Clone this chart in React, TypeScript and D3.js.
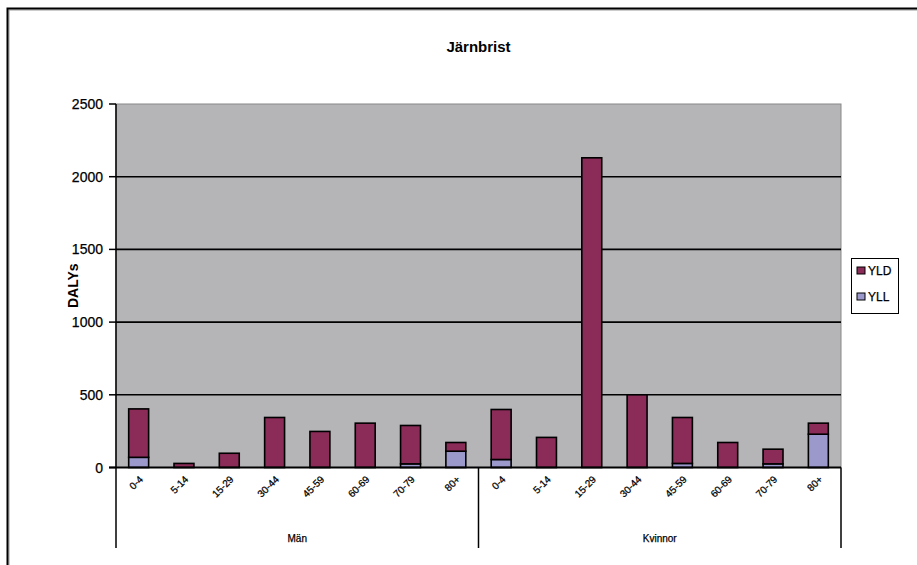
import React from "react";
import * as d3 from "d3";

// Age bands repeated for each sex group
const ageGroups = ["0-4", "5-14", "15-29", "30-44", "45-59", "60-69", "70-79", "80+"];
const sexGroups = ["Män", "Kvinnor"];

// DALY components per age band (Män then Kvinnor)
const yllMen = [70, 0, 0, 0, 0, 0, 25, 112];
const yldMen = [333, 28, 98, 344, 248, 305, 264, 60];
const yllWomen = [55, 0, 0, 0, 28, 0, 25, 229];
const yldWomen = [344, 207, 2130, 500, 316, 172, 101, 76];

const yTicks = [0, 500, 1000, 1500, 2000, 2500];
const seriesNames = ["YLD", "YLL"];
const seriesColors = { YLD: "#8a2b58", YLL: "#9b98cc" };

const W = 917;
const H = 565;
const plot = { left: 116, right: 841, top: 104, bottom: 467.5 };
const FONT = "'Liberation Sans', Arial, sans-serif";

type Row = { key: string; age: string; sex: string; yll: number; yld: number };

const rows: Row[] = [
  ...ageGroups.map((a, i) => ({ key: `M-${a}`, age: a, sex: sexGroups[0], yll: yllMen[i], yld: yldMen[i] })),
  ...ageGroups.map((a, i) => ({ key: `K-${a}`, age: a, sex: sexGroups[1], yll: yllWomen[i], yld: yldWomen[i] })),
];

export default function App() {
  const x = d3
    .scaleBand<string>()
    .domain(rows.map((r) => r.key))
    .range([plot.left, plot.right])
    .paddingInner(0.56)
    .paddingOuter(0.28);
  const y = d3.scaleLinear().domain([0, 2500]).range([plot.bottom, plot.top]);

  const stack = d3.stack<Row>().keys(["yll", "yld"]);
  const layers = stack(rows);

  const step = x.step();
  const groupEdges = [plot.left, plot.left + step * ageGroups.length, plot.right];
  const axisBottom = 548;
  const textInk = { fill: "#000", stroke: "#000", strokeWidth: 0.25 };

  return (
    <svg
      width={W}
      height={H}
      style={{ position: "absolute", left: 0, top: 0, background: "#fff" }}
      fontFamily={FONT}
    >
      {/* outer chart frame */}
      <rect x={9} y={10} width={W} height={H} fill="none" stroke="#999" strokeWidth={1} />
      <rect x={7.5} y={8.5} width={W + 10} height={H + 10} fill="none" stroke="#000" strokeWidth={2} />

      <text x={(plot.left + plot.right) / 2} y={52} textAnchor="middle" fontSize={15} fontWeight="bold">
        Järnbrist
      </text>

      {/* plot area */}
      <rect x={plot.left} y={plot.top} width={plot.right - plot.left} height={plot.bottom - plot.top} fill="#b5b5b8" stroke="#888" strokeWidth={1} />

      {yTicks.map((t) => (
        <g key={t}>
          {t > 0 && t < 2500 && (
            <line x1={plot.left} x2={plot.right} y1={y(t)} y2={y(t)} stroke="#000" strokeWidth={1.6} />
          )}
          <line x1={plot.left - 7} x2={plot.left} y1={y(t)} y2={y(t)} stroke="#000" strokeWidth={1.5} />
          <text x={103} y={y(t) + 5} textAnchor="end" fontSize={14} {...textInk}>
            {t}
          </text>
        </g>
      ))}

      {/* stacked bars */}
      {layers.map((layer) =>
        layer.map((d, i) => {
          const h = y(d[0]) - y(d[1]);
          if (h <= 0) return null;
          return (
            <rect
              key={`${layer.key}-${i}`}
              x={x(rows[i].key)}
              y={y(d[1])}
              width={x.bandwidth()}
              height={h}
              fill={layer.key === "yll" ? seriesColors.YLL : seriesColors.YLD}
              stroke="#000"
              strokeWidth={1.6}
            />
          );
        })
      )}

      {/* axes */}
      <line x1={plot.left} x2={plot.left} y1={plot.top} y2={axisBottom} stroke="#000" strokeWidth={1.5} />
      <line x1={plot.left - 7} x2={plot.right} y1={plot.bottom} y2={plot.bottom} stroke="#000" strokeWidth={1.8} />
      {groupEdges.slice(1).map((gx, i) => (
        <line key={i} x1={gx} x2={gx} y1={plot.bottom} y2={axisBottom} stroke="#000" strokeWidth={1.5} />
      ))}

      {rows.map((r) => {
        const cx = (x(r.key) as number) + x.bandwidth() / 2 + 5;
        const cy = 480;
        return (
          <text key={r.key} transform={`translate(${cx},${cy}) rotate(-45)`} textAnchor="end" fontSize={10} {...textInk}>
            {r.age}
          </text>
        );
      })}

      {sexGroups.map((s, i) => (
        <text key={s} x={(groupEdges[i] + groupEdges[i + 1]) / 2} y={542} textAnchor="middle" fontSize={10} {...textInk}>
          {s}
        </text>
      ))}

      <text transform={`translate(78,${(plot.top + plot.bottom) / 2}) rotate(-90)`} textAnchor="middle" fontSize={14} fontWeight="bold">
        DALYs
      </text>

      {/* legend */}
      <rect x={851.5} y={258.5} width={47} height={55} fill="#fff" stroke="#000" strokeWidth={1} />
      {seriesNames.map((n, i) => (
        <g key={n} transform={`translate(857,${271 + i * 26})`}>
          <rect x={0} y={-4} width={8} height={7} fill={seriesColors[n as "YLD" | "YLL"]} stroke="#000" strokeWidth={1} />
          <text x={11} y={4} fontSize={12} {...textInk}>
            {n}
          </text>
        </g>
      ))}
    </svg>
  );
}
